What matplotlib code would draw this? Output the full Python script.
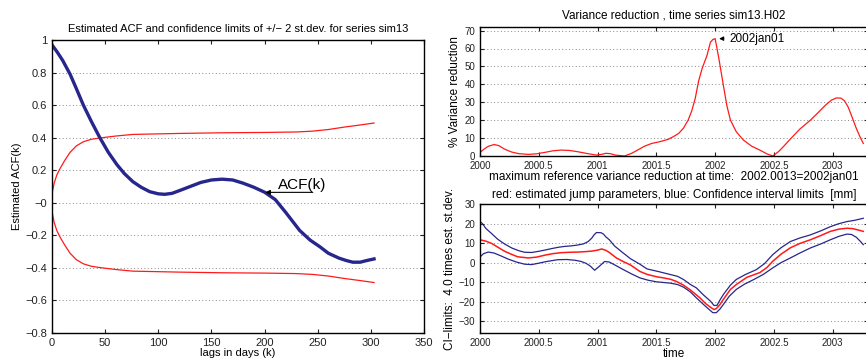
import numpy as np
import matplotlib
matplotlib.use('Agg')
from matplotlib import pyplot
from matplotlib.ticker import FuncFormatter

pyplot.rcParams['font.family'] = ['Liberation Sans', 'DejaVu Sans']

# --- ACF panel ---
lag = [0, 5, 10, 17, 23, 29.5, 37, 45, 53, 61, 68, 76, 84, 92, 100, 106, 113,
       120, 130, 140, 150, 160, 170, 180, 190, 200, 210, 220, 233, 243,
       252, 260, 270, 277, 283, 290, 296, 303]
acf = [0.97, 0.925, 0.875, 0.79, 0.70, 0.60, 0.50, 0.40, 0.31, 0.235, 0.18,
       0.13, 0.095, 0.068, 0.055, 0.052, 0.058, 0.075, 0.10, 0.125, 0.14,
       0.145, 0.14, 0.12, 0.095, 0.065, 0.02, -0.06, -0.17, -0.23, -0.27,
       -0.31, -0.34, -0.355, -0.365, -0.365, -0.355, -0.345]
ci_lag = [0, 2, 4.5, 7.5, 12, 17, 23, 29.5, 37, 45, 60, 76, 120, 160, 200, 230,
          245, 260, 275, 290, 303]
ci_up = [0.057, 0.12, 0.17, 0.21, 0.26, 0.31, 0.35, 0.375, 0.39, 0.398, 0.41,
         0.42, 0.426, 0.43, 0.432, 0.435, 0.44, 0.45, 0.465, 0.478, 0.49]
ci_lo = [-0.055, -0.12, -0.17, -0.21, -0.26, -0.31, -0.35, -0.375, -0.39,
         -0.398, -0.41, -0.42, -0.426, -0.43, -0.432, -0.435, -0.44, -0.45,
         -0.465, -0.478, -0.49]

# --- variance reduction panel ---
vr_t = [2000.00, 2000.03, 2000.07, 2000.12, 2000.16, 2000.21, 2000.27, 2000.33,
        2000.41, 2000.48, 2000.55, 2000.62, 2000.69, 2000.76, 2000.83, 2000.91,
        2000.99, 2001.04, 2001.07, 2001.11, 2001.15, 2001.23, 2001.29, 2001.34,
        2001.40, 2001.46, 2001.53, 2001.60, 2001.65, 2001.69, 2001.73, 2001.77,
        2001.80, 2001.83, 2001.86, 2001.89, 2001.93, 2001.96, 2001.98, 2002.00,
        2002.03, 2002.07, 2002.10, 2002.13, 2002.18, 2002.24, 2002.31, 2002.38,
        2002.44, 2002.49, 2002.54, 2002.58, 2002.64, 2002.72, 2002.81, 2002.88,
        2002.94, 2002.99, 2003.03, 2003.07, 2003.10, 2003.13, 2003.16, 2003.20,
        2003.23, 2003.26]
vr = [2.0, 3.6, 5.4, 6.4, 5.8, 3.8, 2.2, 1.3, 0.9, 1.2, 2.0, 2.9, 3.3, 3.1, 2.4,
      1.4, 0.5, 1.0, 1.5, 1.3, 0.5, 0.0, 1.5, 3.3, 5.5, 7.0, 8.0, 9.3, 11.0,
      12.6, 15.5, 20.0, 25.0, 32.0, 42.0, 49.0, 56.0, 63.5, 65.0, 65.5, 55.0,
      39.4, 28.0, 20.0, 13.5, 8.9, 5.5, 3.3, 1.2, 0.0, 2.5, 5.2, 9.5, 15.0, 20.0,
      24.5, 28.5, 31.2, 32.4, 32.3, 30.8, 27.5, 22.5, 15.5, 11.0, 7.0]

# --- jump parameters panel ---
jp_t = [2000.00, 2000.05, 2000.10, 2000.16, 2000.21, 2000.27, 2000.32, 2000.41,
        2000.48, 2000.55, 2000.62, 2000.69, 2000.76, 2000.83, 2000.89, 2000.95,
        2001.00, 2001.035, 2001.07, 2001.10, 2001.16, 2001.22, 2001.28, 2001.36,
        2001.42, 2001.50, 2001.56, 2001.62, 2001.67, 2001.73, 2001.79, 2001.84,
        2001.87, 2001.92, 2001.96, 2001.99, 2002.01, 2002.04, 2002.07, 2002.13,
        2002.18, 2002.27, 2002.38, 2002.44, 2002.49, 2002.56, 2002.64, 2002.72,
        2002.81, 2002.90, 2002.98, 2003.05, 2003.12, 2003.17, 2003.21, 2003.26]
jump = [11.7, 11.0, 9.8, 7.6, 5.8, 4.2, 3.0, 2.4, 2.8, 3.8, 4.6, 5.1, 5.3, 5.4,
        5.6, 5.9, 6.4, 7.0, 6.3, 5.2, 2.4, 0.5, -1.2, -4.5, -6.0, -7.2, -7.8,
        -8.5, -9.6, -11.5, -14.0, -16.5, -18.0, -21.0, -22.8, -24.0, -23.5,
        -21.5, -18.8, -13.7, -11.2, -7.5, -5.1, -2.5, 0.7, 4.3, 7.6, 9.8, 11.7,
        13.9, 16.0, 17.1, 17.6, 17.4, 16.8, 16.0]
up_t = [2000.00, 2000.02, 2000.05, 2000.10, 2000.15, 2000.21, 2000.27, 2000.33,
        2000.38, 2000.44, 2000.49, 2000.55, 2000.61, 2000.67, 2000.72, 2000.78,
        2000.83, 2000.88, 2000.92, 2000.95, 2000.97, 2000.99, 2001.03, 2001.05,
        2001.07, 2001.10, 2001.145, 2001.21, 2001.28, 2001.36, 2001.42, 2001.52,
        2001.62, 2001.68, 2001.73, 2001.79, 2001.84, 2001.90, 2001.96, 2001.99,
        2002.015, 2002.04, 2002.07, 2002.13, 2002.18, 2002.26, 2002.35, 2002.42,
        2002.49, 2002.56, 2002.64, 2002.72, 2002.81, 2002.90, 2002.98, 2003.05,
        2003.12, 2003.19, 2003.26]
upper = [21.0, 20.0, 17.5, 14.8, 12.0, 9.5, 7.5, 6.1, 5.3, 5.2, 5.7, 6.4, 7.2,
         7.9, 8.3, 8.6, 9.0, 9.6, 10.8, 12.5, 14.2, 15.4, 15.3, 14.6, 13.2, 11.7,
         8.5, 5.3, 2.0, -0.8, -3.2, -4.6, -6.1, -7.0, -8.6, -11.2, -12.9, -16.5,
         -19.7, -21.9, -21.9, -19.2, -16.3, -11.5, -8.6, -6.0, -3.6, -0.5, 4.1,
         7.6, 10.8, 12.6, 14.2, 16.3, 18.4, 19.9, 21.0, 21.7, 22.7]
lo_t = [2000.00, 2000.03, 2000.07, 2000.12, 2000.18, 2000.24, 2000.31, 2000.38,
        2000.44, 2000.49, 2000.56, 2000.66, 2000.74, 2000.81, 2000.86, 2000.90,
        2000.935, 2000.975, 2001.02, 2001.06, 2001.10, 2001.15, 2001.22, 2001.29,
        2001.36, 2001.43, 2001.50, 2001.62, 2001.68, 2001.73, 2001.79, 2001.84,
        2001.89, 2001.93, 2001.98, 2002.01, 2002.04, 2002.07, 2002.12, 2002.18,
        2002.25, 2002.33, 2002.41, 2002.49, 2002.56, 2002.64, 2002.72, 2002.81,
        2002.90, 2002.98, 2003.05, 2003.12, 2003.16, 2003.20, 2003.23, 2003.26]
lower = [2.9, 4.6, 5.4, 4.9, 3.4, 1.8, 0.3, -0.8, -1.0, -0.4, 0.5, 1.5, 1.6, 1.2,
         0.6, -0.3, -1.6, -3.9, -1.6, 0.6, 0.3, -1.3, -3.6, -5.8, -7.8, -9.0,
         -9.8, -10.5, -11.2, -12.5, -15.0, -18.0, -20.8, -23.0, -25.6, -25.6,
         -23.8, -21.4, -17.2, -13.7, -11.0, -8.6, -6.0, -2.7, 0.0, 2.4, 4.9, 7.5,
         9.6, 11.7, 13.4, 14.6, 14.4, 13.0, 11.2, 9.2]

NAVY = '#26268c'
RED = '#ff1a1a'


def matlab_fmt(v, pos):
    return ('%g' % round(v, 6)).replace('-', '\u2212')


def style(ax, fs=7.5):
    ax.tick_params(direction='in', top=True, right=True, labelsize=fs,
                   length=3, colors='#222222')
    for s in ax.spines.values():
        s.set_linewidth(1.0)
    ax.yaxis.grid(True, linestyle=(0, (1, 2.5)), color='#888888', lw=0.7)
    ax.set_axisbelow(True)
    ax.xaxis.set_major_formatter(FuncFormatter(matlab_fmt))
    ax.yaxis.set_major_formatter(FuncFormatter(matlab_fmt))


fig = pyplot.figure(figsize=(8.66, 3.63), dpi=100)

W, H = 866.0, 363.0
ax1 = fig.add_axes([52 / W, 30 / H, 372 / W, 293 / H])
ax1.plot(ci_lag, ci_up, color=RED, lw=0.9)
ax1.plot(ci_lag, ci_lo, color=RED, lw=0.9)
ax1.plot(lag, acf, color=NAVY, lw=2.4, solid_joinstyle='round')
ax1.set_xlim(0, 350)
ax1.set_ylim(-0.8, 1.0)
ax1.set_xticks(np.arange(0, 351, 50))
ax1.set_yticks(np.arange(-0.8, 1.01, 0.2))
style(ax1, 8)
ax1.set_title('Estimated ACF and confidence limits of +/\u2212 2 st.dev. for series sim13',
              fontsize=8, pad=6)
ax1.set_xlabel('lags in days (k)', fontsize=8, labelpad=0)
ax1.set_ylabel('Estimated ACF(k)', fontsize=8, labelpad=2)
ax1.annotate('', xy=(198, 0.064), xytext=(248, 0.064),
             arrowprops=dict(arrowstyle='-|>', color='black', lw=0.8,
                             mutation_scale=7))
ax1.text(213, 0.11, 'ACF(k)', fontsize=11, va='center', ha='left')

ax2 = fig.add_axes([480 / W, 207 / H, 388 / W, 129 / H])
ax2.plot(vr_t, vr, color=RED, lw=0.9)
ax2.set_xlim(2000, 2003.3)
ax2.set_ylim(0, 72)
ax2.set_xticks(np.arange(2000, 2003.01, 0.5))
ax2.set_yticks(np.arange(0, 71, 10))
style(ax2, 7)
ax2.set_title('Variance reduction , time series sim13.H02', fontsize=8.5, pad=6)
ax2.set_xlabel('maximum reference variance reduction at time:  2002.0013=2002jan01',
               fontsize=8.5, labelpad=0)
ax2.set_ylabel('% Variance reduction', fontsize=8.5, labelpad=2)
ax2.annotate('2002jan01', xy=(2002.01, 65.5), xytext=(2002.12, 65.5),
             fontsize=8.5, va='center',
             arrowprops=dict(arrowstyle='-|>', color='black', lw=0.8,
                             mutation_scale=6))

ax3 = fig.add_axes([480 / W, 30 / H, 388 / W, 129 / H])
ax3.plot(up_t, upper, color=NAVY, lw=0.9)
ax3.plot(lo_t, lower, color=NAVY, lw=0.9)
ax3.plot(jp_t, jump, color=RED, lw=1.1)
ax3.set_xlim(2000, 2003.3)
ax3.set_ylim(-36, 30)
ax3.set_xticks(np.arange(2000, 2003.01, 0.5))
ax3.set_yticks(np.arange(-30, 31, 10))
style(ax3, 7)
ax3.set_title('red: estimated jump parameters, blue: Confidence interval limits  [mm]',
              fontsize=8.5, pad=4)
ax3.set_xlabel('time', fontsize=8.5, labelpad=0)
ax3.set_ylabel('CI\u2212limits:  4.0 times est. st.dev.', fontsize=8.5, labelpad=2)

fig.savefig('out.png', dpi=100)
